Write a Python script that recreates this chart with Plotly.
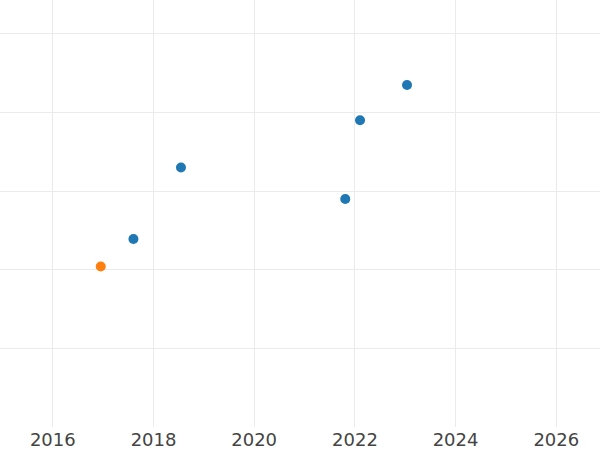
import plotly.graph_objects as go

blue_dates = ["2017-08-08", "2018-07-19", "2021-10-23", "2022-02-07", "2023-01-14"]
blue_values = [2.39, 3.30, 2.90, 3.90, 4.35]
orange_dates = ["2016-12-14"]
orange_values = [2.04]

fig = go.Figure()
fig.add_trace(go.Scatter(x=blue_dates, y=blue_values, mode="markers",
                         marker=dict(color="#1f77b4", size=10)))
fig.add_trace(go.Scatter(x=orange_dates, y=orange_values, mode="markers",
                         marker=dict(color="#ff7f0e", size=10)))

fig.update_layout(
    margin=dict(l=0, r=0, t=0, b=23),
    paper_bgcolor="white", plot_bgcolor="white",
    showlegend=False,
    font=dict(family="DejaVu Sans", size=18, color="#444444"),
    xaxis=dict(type="date", range=["2014-12-14", "2026-11-14"],
               dtick="M24", tick0="2016-01-01", tickformat="%Y",
               showgrid=True, gridcolor="#ebebeb", gridwidth=1.3,
               zeroline=False, showline=False, ticks=""),
    yaxis=dict(range=[0, 5.43], dtick=1, showticklabels=False,
               showgrid=True, gridcolor="#ebebeb", gridwidth=1.3,
               zeroline=False, showline=False, ticks=""),
)
fig.write_html("out.html", default_width="600px", default_height="450px",
               include_plotlyjs=True, full_html=True,
               config={"displayModeBar": False},
               post_script="document.body.style.margin='0';")
